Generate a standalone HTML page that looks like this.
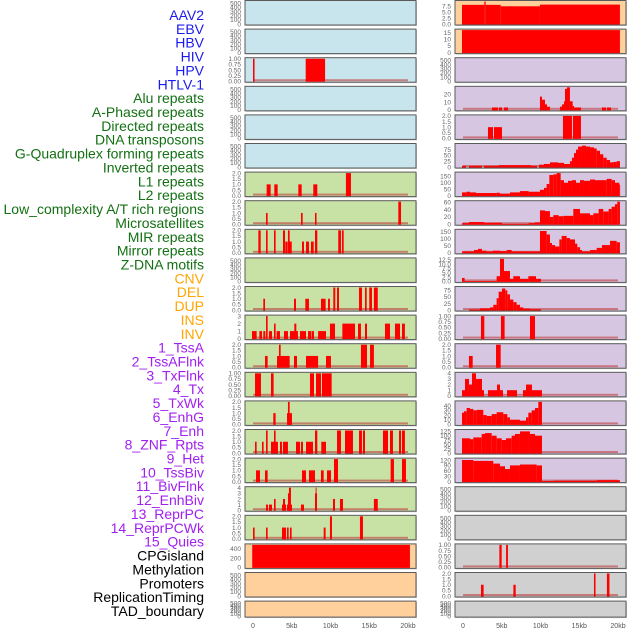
<!DOCTYPE html>
<html><head><meta charset="utf-8"><style>
html,body{margin:0;padding:0;background:#fff;}
svg{display:block;font-family:"Liberation Sans",sans-serif;}
</style></head><body>
<svg id="chart" width="630" height="630" viewBox="0 0 630 630" xmlns="http://www.w3.org/2000/svg"></svg>
<script>
const NS="http://www.w3.org/2000/svg";
const svg=document.getElementById('chart');
const trackLabels=["AAV2","EBV","HBV","HIV","HPV","HTLV-1","Alu repeats","A-Phased repeats","Directed repeats","DNA transposons","G-Quadruplex forming repeats","Inverted repeats","L1 repeats","L2 repeats","Low_complexity A/T rich regions","Microsatellites","MIR repeats","Mirror repeats","Z-DNA motifs","CNV","DEL","DUP","INS","INV","1_TssA","2_TssAFlnk","3_TxFlnk","4_Tx","5_TxWk","6_EnhG","7_Enh","8_ZNF_Rpts","9_Het","10_TssBiv","11_BivFlnk","12_EnhBiv","13_ReprPC","14_ReprPCWk","15_Quies","CPGisland","Methylation","Promoters","ReplicationTiming","TAD_boundary"];
const labelColors=[...Array(6).fill("#1a1aee"),...Array(13).fill("#137013"),...Array(5).fill("#ffa500"),...Array(15).fill("#a020f0"),...Array(5).fill("#000")];
const xTicks=[0,5,10,15,20];
const xTickLabels=["0","5kb","10kb","15kb","20kb"];
const BL="#c8e4ec",GR="#c8e2a6",BE="#ffd09c",LA="#d6c6e2",GY="#d0d0d0";
const E=[0,100,200,300,400,500];
const T1=[0,0.25,0.5,0.75,1],T1L=["0.00","0.25","0.50","0.75","1.00"];
const T2=[0,0.5,1,1.5,2],T2L=["0.0","0.5","1.0","1.5","2.0"];
const hivBars=[[0,0.2,1],[6.8,9.3,1]];
const l1Bars=[[1.76,2.28,1],[2.75,3.18,1],[5.85,6.28,1],[7.78,8.3,1],[11.99,12.64,2]];
const l2Bars=[[1.68,1.89,1],[6.19,6.41,1],[8.0,8.2,1],[18.75,19.1,2]];
const lowBars=[[0.69,0.99,2],[1.68,1.89,2],[2.71,2.92,2],[3.87,4.13,2],[4.17,4.47,1],[4.51,4.73,2],[4.7,5.0,1],[6.32,6.58,1],[6.84,7.22,1],[7.48,7.83,1],[8.0,8.3,2],[11.0,11.35,2],[11.48,11.7,2]];
const mirBars=[[1.33,1.55,1],[5.29,5.55,1],[6.75,7.22,1],[8.77,9.37,1],[9.68,9.93,1],[10.36,10.62,2],[10.84,11.1,2],[13.68,14.06,2],[14.45,14.67,2],[15.0,15.35,2],[15.6,16.1,2]];
const mirrorBars=[[-0.13,0.47,1],[0.82,1.16,1],[1.33,1.59,1],[1.68,1.89,3],[2.06,2.45,1],[2.71,2.92,2],[3.05,3.48,1],[4.0,4.51,1],[4.77,5.8,1],[5.33,5.59,2],[6.06,6.84,1],[7.1,7.53,1],[7.6,7.87,1],[8.4,9.42,1],[9.93,10.58,2],[11.53,13.16,2],[13.55,13.93,2],[14.45,14.71,2],[17.03,17.68,2],[18.32,18.97,2],[19.22,19.6,2]];
const zdnaBars=[[1.55,1.89,1],[3.1,4.73,1],[3.35,3.57,2],[5.29,5.68,1],[6.84,8.4,1],[9.42,10.06,1],[13.93,14.71,2],[15.1,15.6,2]];
const row14Bars=[[0.26,1.03,1],[2.32,2.66,1],[7.35,7.87,1],[8.13,8.77,1],[8.9,10.15,1]];
const row15Bars=[[2.62,2.92,1],[4.39,5.03,1],[4.51,4.73,2]];
const row16Bars=[[0.26,0.47,1],[1.16,1.37,1],[1.68,1.89,2],[2.32,3.22,1],[2.71,2.92,2],[3.48,3.74,1],[3.87,4.51,1],[5.55,6.06,1],[6.19,6.45,1],[6.84,7.74,1],[8.0,8.3,2],[8.81,9.42,1],[10.84,11.35,2],[11.87,12.9,2],[13.68,14.06,2],[14.19,14.45,2],[16.77,17.42,2],[17.68,18.06,2],[18.84,19.1,2],[19.22,19.6,2]];
const row17Bars=[[0.39,0.9,1],[1.55,1.89,1],[6.32,6.84,1],[7.22,8.0,1],[8.77,9.12,1],[9.55,10.06,1],[10.45,10.97,2],[17.76,18.19,2],[19.22,19.74,2]];
const row18Bars=[[1.68,1.93,1],[2.06,2.45,1],[2.71,2.92,2],[3.74,4.26,1],[3.87,4.13,2],[4.39,5.03,1],[4.51,4.73,3],[4.64,4.9,4],[6.19,6.58,1],[8.0,8.26,3],[8.08,8.2,4],[10.32,10.58,2],[11.22,11.61,2],[15.6,16.1,2]];
const row19Bars=[[0,0.21,1],[1.68,1.89,1],[3.74,4.26,1],[4.39,4.6,1],[4.77,4.98,1],[9.12,9.37,1],[9.93,10.19,2],[13.8,14.19,2]];
const cpgBars=[[-0.1,20.25,480]];
const r0Bars=[[-0.13,2.75,8.0],[2.75,2.92,9.4],[2.92,4.86,8.0],[4.86,9.93,7.4],[9.93,20.25,8.1]];
const r1Bars=[[-0.13,20.25,16.8]];
const r3Bars=[[3.74,4.51,3],[4.64,5.03,3],[5.29,5.8,3],[9.93,10.19,17],[10.19,10.58,13],[10.58,10.84,7],[10.84,11.22,4],[12.51,12.77,4],[12.77,13.03,7],[13.03,13.16,11],[13.16,13.42,27],[13.42,13.8,29],[13.8,14.15,11],[14.15,14.32,5],[14.32,15.22,3],[17.93,18.45,3],[18.58,19.1,3]];
const r4Bars=[[3.22,3.87,1],[4.0,5.03,1],[12.9,14.06,2],[14.19,15.22,2]];
const r5Bars=[[-0.13,0.39,5],[0.77,2.45,5],[2.71,4.64,5],[4.64,8.77,8],[8.77,9.55,5],[9.8,10.45,10],[10.45,11.22,13],[11.22,12.26,20],[12.26,13.03,18],[13.03,13.8,13],[13.8,14.06,25],[14.06,14.32,40],[14.32,14.58,60],[14.58,14.84,75],[14.84,15.35,88],[15.35,15.87,92],[15.87,16.39,88],[16.39,16.9,85],[16.9,17.25,80],[17.25,17.68,70],[17.68,18.1,55],[18.1,18.54,40],[18.54,18.97,30],[18.97,19.4,20],[19.4,19.83,22],[19.83,20.25,25]];
const r6Bars=[[-0.13,0.47,25],[0.47,0.9,30],[0.9,1.68,25],[1.68,4.34,20],[4.34,4.77,22],[4.77,6.06,15],[6.06,7.35,25],[7.35,8.47,35],[8.47,9.93,30],[9.93,10.45,45],[10.45,10.79,60],[10.79,11.14,90],[11.14,11.65,160],[11.65,12.08,165],[12.08,12.6,175],[12.6,13.03,120],[13.03,13.55,100],[13.55,14.06,115],[14.06,14.58,120],[14.58,15.1,100],[15.1,15.61,120],[15.61,16.39,115],[16.39,17.03,125],[17.03,18.54,120],[18.54,19.18,130],[19.18,19.61,120],[19.61,20.17,100],[20.17,20.25,85]];
const r7Bars=[[-0.13,0.77,3],[0.77,2.71,6],[2.71,5.03,4],[5.03,8.47,1],[8.47,9.29,3],[9.29,9.93,5],[9.93,10.58,38],[10.58,11.22,36],[11.22,11.65,20],[11.65,12.34,25],[12.34,12.94,22],[12.94,14.23,23],[14.23,15.1,42],[15.1,16.39,30],[16.39,16.82,25],[16.82,17.5,30],[17.5,18.1,42],[18.1,18.79,35],[18.79,19.18,42],[19.18,19.61,48],[19.61,19.91,55],[19.91,20.25,62]];
const r8Bars=[[-0.13,1.42,10],[1.42,1.93,20],[1.93,2.45,28],[2.45,3.05,15],[3.05,3.83,10],[3.83,4.77,15],[4.77,5.63,12],[5.63,6.28,20],[6.28,9.93,10],[9.93,10.79,155],[10.79,11.22,130],[11.22,11.48,70],[11.48,11.87,55],[11.87,12.43,45],[12.43,12.73,95],[12.73,13.37,120],[13.37,13.8,105],[13.8,14.45,95],[14.45,14.75,65],[14.75,15.1,40],[15.1,15.35,20],[15.35,16.39,10],[16.39,17.25,20],[17.25,17.93,35],[17.93,18.97,55],[18.97,19.83,85],[19.83,20.25,75]];
const r9Bars=[[-0.13,0.21,2],[0.21,4.34,0.2],[4.34,4.77,3],[4.77,5.29,13],[5.29,6.06,6],[6.06,6.49,1.5],[6.49,7.35,3],[7.35,8.43,1.5],[8.43,9.42,3],[9.42,10.06,1.5]];
const r10Bars=[[0.77,2.19,2],[2.19,3.48,6],[3.48,3.91,10],[3.91,4.34,20],[4.34,4.6,45],[4.6,5.03,70],[5.03,5.46,82],[5.46,5.72,75],[5.72,6.06,60],[6.06,6.49,40],[6.49,6.92,30],[6.92,7.35,20],[7.35,7.78,10],[7.78,8.64,5],[8.64,10.06,3]];
const r11Bars=[[2.32,2.75,1],[4.9,5.37,1],[8.64,9.29,1]];
const r12Bars=[[0.77,1.25,1],[4.26,4.86,2]];
const r13Bars=[[-0.13,0.26,1],[0.26,0.77,3],[0.77,1.16,2],[1.16,1.68,4],[1.68,2.45,3],[2.45,2.71,1],[3.22,4.39,1],[4.39,4.77,2],[4.77,5.16,1],[5.68,6.97,1],[7.74,8.13,1],[8.13,8.9,2],[8.9,10.19,1]];
const r14Bars=[[-0.13,0.13,25],[0.13,0.47,28],[0.47,0.9,35],[0.9,1.33,33],[1.33,1.76,30],[1.76,2.62,31],[2.62,3.05,20],[3.05,3.7,18],[3.7,4.34,22],[4.34,5.2,26],[5.2,5.72,22],[5.72,6.06,15],[6.06,7.35,10],[7.35,8.13,8],[8.13,8.43,15],[8.43,8.86,25],[8.86,9.29,30],[9.29,9.72,35],[9.72,10.19,48]];
const r15Bars=[[-0.13,0.9,85],[0.9,1.33,80],[1.33,2.41,90],[2.41,2.84,110],[2.84,3.7,115],[3.7,4.34,100],[4.34,4.99,85],[4.99,5.55,75],[5.55,6.28,85],[6.28,6.71,100],[6.71,7.35,110],[7.35,8.64,125],[8.64,9.29,110],[9.29,10.19,100]];
const r16Bars=[[-0.13,1.33,120],[1.33,3.91,115],[3.91,4.77,100],[4.77,5.42,85],[5.42,6.06,70],[6.06,7.35,90],[7.35,9.5,95],[9.5,10.19,90],[10.19,11.65,3],[11.65,17.25,5],[17.25,20.25,8]];
const r19Bars=[[4.69,4.99,1],[5.56,5.8,1]];
const r20Bars=[[2.32,2.66,1],[6.5,6.8,1],[16.9,17.1,2],[18.57,18.9,2]];
// [background, ymax, ticks, tickLabels, bars, baseline]
const leftPanels=[
[BL,540,E,null,[],0],[BL,540,E,null,[],0],[BL,1,T1,T1L,hivBars,1],[BL,540,E,null,[],0],[BL,540,E,null,[],0],[BL,540,E,null,[],0],
[GR,2,T2,T2L,l1Bars,1],[GR,2,T2,T2L,l2Bars,1],[GR,2,T2,T2L,lowBars,1],[GR,540,E,null,[],0],[GR,2,T2,T2L,mirBars,1],
[GR,3,[0,1,2,3],null,mirrorBars,1],[GR,2,T2,T2L,zdnaBars,1],[GR,1,T1,T1L,row14Bars,1],[GR,2,T2,T2L,row15Bars,1],
[GR,2,T2,T2L,row16Bars,1],[GR,2,T2,T2L,row17Bars,1],[GR,4,[0,1,2,3,4],null,row18Bars,1],[GR,2,T2,T2L,row19Bars,1],
[BE,480,[0,200,400],null,cpgBars,0],[BE,540,E,null,[],0],[BE,540,E,null,[],0]];
const rightPanels=[
[BE,9.4,[0,2.5,5,7.5],["0.0","2.5","5.0","7.5"],r0Bars,0],[BE,16.8,[0,5,10,15],null,r1Bars,0],[LA,540,E,null,[],0],
[LA,29,[0,10,20],null,r3Bars,1],[LA,2,T2,T2L,r4Bars,1],[LA,97,[0,25,50,75],null,r5Bars,1],[LA,175,[0,50,100,150],null,r6Bars,1],
[LA,62,[0,20,40,60],null,r7Bars,1],[LA,160,[0,50,100,150],null,r8Bars,1],[LA,13,[0,2.5,5,7.5,10,12.5],["0.0","2.5","5.0","7.5","10.0","12.5"],r9Bars,1],
[LA,86,[0,25,50,75],null,r10Bars,1],[LA,1,T1,T1L,r11Bars,1],[LA,2,T2,T2L,r12Bars,1],[LA,4,[0,1,2,3,4],null,r13Bars,1],
[LA,48,[0,10,20,30,40],null,r14Bars,1],[LA,130,[0,25,50,75,100,125],null,r15Bars,1],[LA,125,[0,30,60,90,120],null,r16Bars,1],
[GY,540,E,null,[],0],[GY,540,E,null,[],0],[GY,1,T1,T1L,r19Bars,1],[GY,2,T2,T2L,r20Bars,1],[GY,540,E,null,[],0]];

function mk(tag,attrs,parent){const e=document.createElementNS(NS,tag);for(const k in attrs)e.setAttribute(k,attrs[k]);(parent||svg).appendChild(e);return e;}

// labels
trackLabels.forEach((t,i)=>{
  const el=mk('text',{x:204,y:15+i*13.86+5,'text-anchor':'end','font-size':14,fill:labelColors[i]});
  el.textContent=t;
  
  
});

function drawPanel(p,row,colX0,col){
  const [bg,ymax,ticks,tl,bars,base]=p;
  const top=row*28.6+0.5, h=row===21?16:24.5, w=171;
  const x0=colX0+8, kbPx=7.75;
  const xs=kb=>x0+kb*kbPx;
  const bottom=top+h-1;
  const ys=v=>bottom-(v/ymax)*(h-2);
  const g=mk('g',{});
  
  
  mk('rect',{x:colX0+1,y:top+1,width:w,height:h,fill:'#999',opacity:0.5},g);
  mk('rect',{x:colX0,y:top,width:w,height:h,fill:bg,stroke:'#5a5a5a','stroke-width':1},g);
  if(base){
    const b=mk('rect',{x:xs(0),y:bottom-2,width:xs(20)-xs(0),height:2,fill:'#c04040',opacity:0.6},g);
    
    
  }
  bars.forEach(s=>{
    const y=ys(s[2]);
    const r=mk('rect',{x:xs(s[0]),y:Math.max(top,y),width:Math.max(0.8,xs(s[1])-xs(s[0])),height:bottom-Math.max(top,y)+0.5,fill:'#ff0000'},g);
    
    
  });
  ticks.forEach((t,i)=>{
    const y=ys(t);
    const tx=mk('text',{x:colX0-4,y:y+2.3,'text-anchor':'end','font-size':6.5,fill:'#666'},g);
    tx.textContent=tl?tl[i]:String(t);
    
    
  });
}
leftPanels.forEach((p,i)=>drawPanel(p,i,245,'left'));
rightPanels.forEach((p,i)=>drawPanel(p,i,455,'right'));

[245,455].forEach(c=>{
  xTicks.forEach((k,i)=>{
    const t=mk('text',{x:c+8+k*7.75,y:628,'text-anchor':'middle','font-size':7,fill:'#555'});
    t.textContent=xTickLabels[i];
    
    
  });
});
</script>
</body></html>
